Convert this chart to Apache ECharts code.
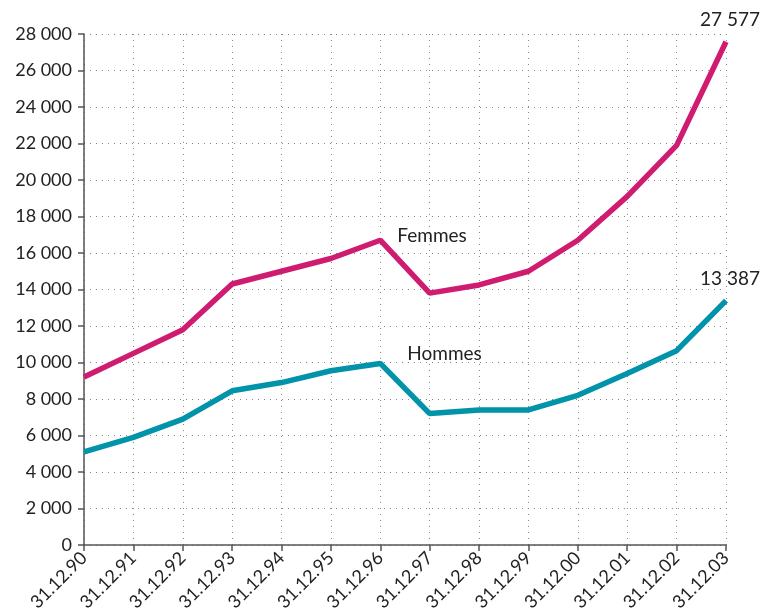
<!DOCTYPE html>
<html>
<head>
<meta charset="utf-8">
<script src="https://cdn.jsdelivr.net/npm/echarts@6/dist/echarts.min.js"></script>
<style>
  html, body { margin: 0; padding: 0; background: #fff; }
  #main { width: 765px; height: 616px; }
</style>
</head>
<body>
<div id="main"></div>
<script>
var dates = ['31.12.90', '31.12.91', '31.12.92', '31.12.93', '31.12.94', '31.12.95', '31.12.96',
             '31.12.97', '31.12.98', '31.12.99', '31.12.00', '31.12.01', '31.12.02', '31.12.03'];
var femmes = [9200, 10500, 11800, 14300, 15000, 15700, 16700, 13800, 14250, 15000, 16700, 19100, 21900, 27577];
var hommes = [5100, 5900, 6900, 8450, 8900, 9550, 9950, 7200, 7400, 7400, 8200, 9400, 10650, 13387];

var fontName = 'Lato';

function fmt(v) {
    return String(v).replace(/\B(?=(\d{3})+(?!\d))/g, ' ');
}

// put the series name next to one point and the value on the last point
function buildData(values, nameIdx, nameOffset) {
    var last = values.length - 1;
    return values.map(function (v, i) {
        if (i === nameIdx) {
            return { value: v, label: { show: true, formatter: '{a}', position: 'right', offset: nameOffset } };
        }
        if (i === last) {
            return { value: v, label: { show: true, formatter: function (p) { return fmt(p.value); }, position: 'top', distance: 12, offset: [4, 0] } };
        }
        return v;
    });
}

var myChart = echarts.init(document.getElementById('main'));
var option = {
    animation: false,
    textStyle: { fontFamily: fontName },
    grid: { left: 84, right: 39, top: 34, bottom: 71 },
    xAxis: {
        type: 'category',
        data: dates,
        boundaryGap: false,
        axisLine: { lineStyle: { color: '#555', width: 1.5 } },
        axisTick: { show: true, alignWithLabel: true, length: 6, lineStyle: { color: '#555', width: 1.5 } },
        axisLabel: { rotate: 45, color: '#222', fontSize: 18, margin: 10, fontFamily: fontName },
        splitLine: { show: true, lineStyle: { type: [1, 5], color: '#888', width: 1 } }
    },
    yAxis: {
        type: 'value',
        min: 0,
        max: 28000,
        interval: 2000,
        axisLine: { show: true, lineStyle: { color: '#555', width: 1.5 } },
        axisTick: { show: true, length: 6, lineStyle: { color: '#555', width: 1.5 } },
        axisLabel: { color: '#222', fontSize: 18, margin: 12, fontFamily: fontName, formatter: fmt },
        splitLine: { show: true, lineStyle: { type: [1, 5], color: '#888', width: 1 } }
    },
    series: [
        {
            name: 'Femmes',
            type: 'line',
            data: buildData(femmes, 6, [12, -4]),
            symbol: 'circle',
            symbolSize: 0,
            showSymbol: true,
            lineStyle: { color: '#d01c70', width: 5.5 },
            itemStyle: { color: '#d01c70' },
            label: { color: '#222', fontSize: 19, fontFamily: fontName }
        },
        {
            name: 'Hommes',
            type: 'line',
            data: buildData(hommes, 6, [22, -10]),
            symbol: 'circle',
            symbolSize: 0,
            showSymbol: true,
            lineStyle: { color: '#0093a9', width: 5.5 },
            itemStyle: { color: '#0093a9' },
            label: { color: '#222', fontSize: 19, fontFamily: fontName }
        }
    ]
};

option && myChart.setOption(option);
</script>
</body>
</html>
